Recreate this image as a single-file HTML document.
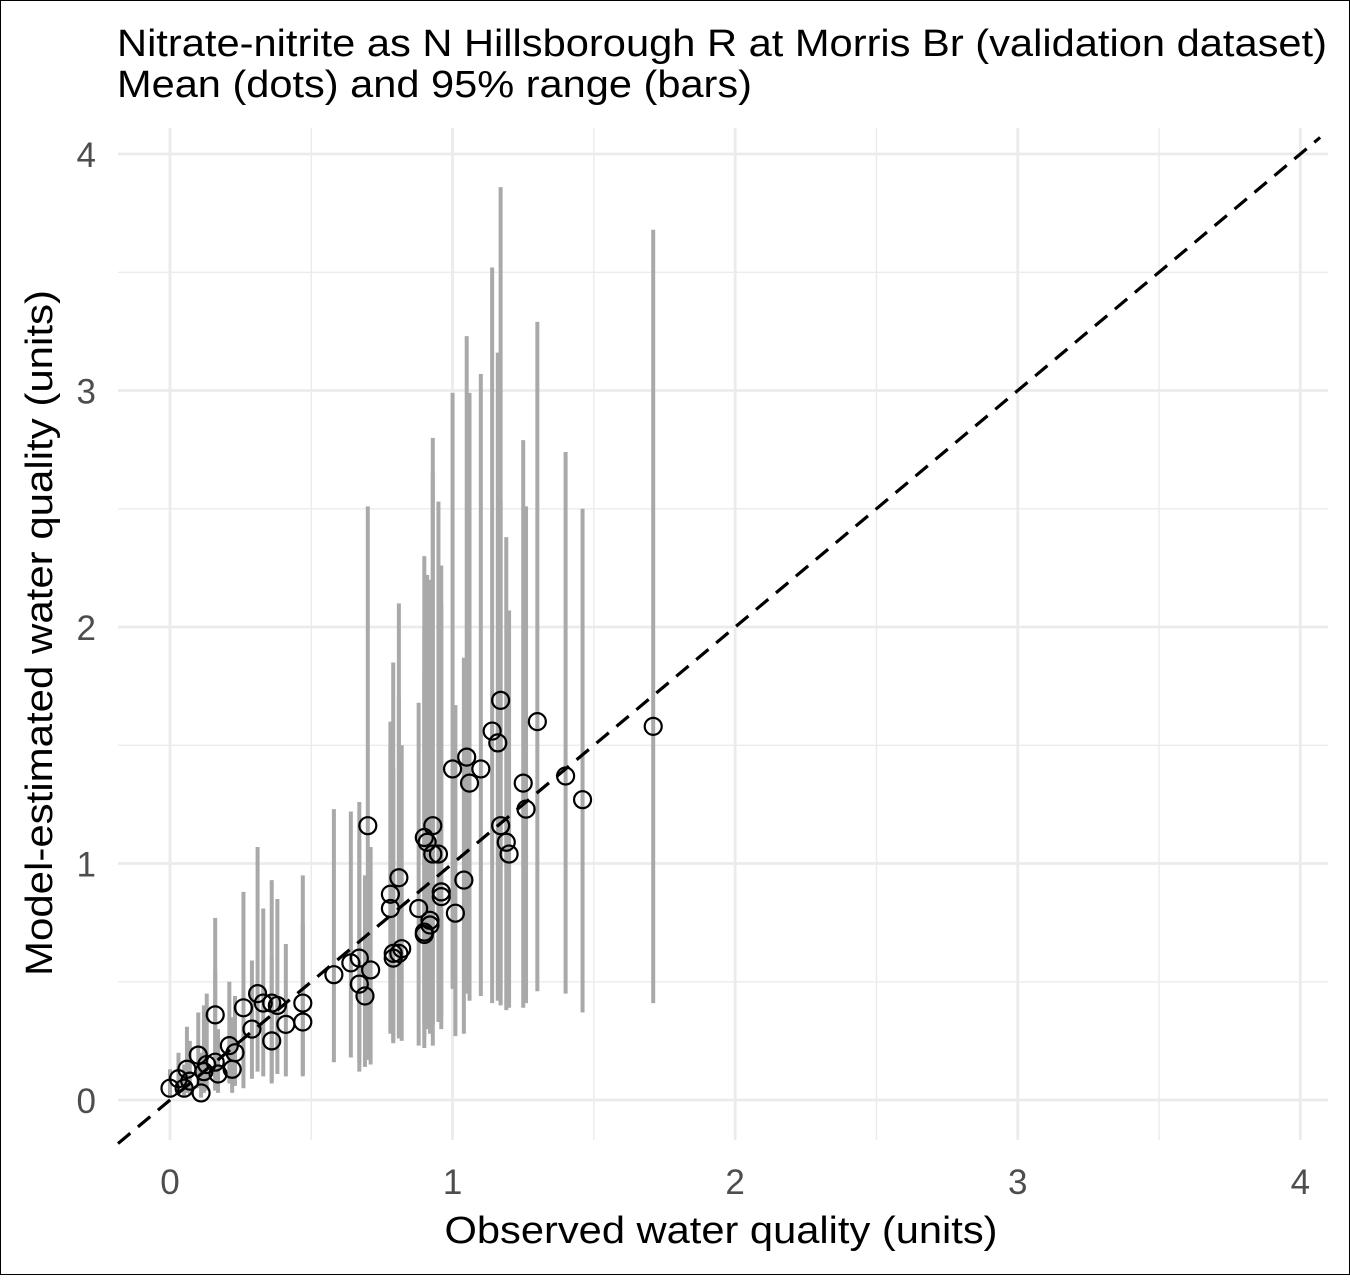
<!DOCTYPE html>
<html><head><meta charset="utf-8"><style>
body{margin:0;background:#fff}
svg text{font-family:"Liberation Sans",Arial,sans-serif}
</style></head><body>
<svg width="1350" height="1275" xmlns="http://www.w3.org/2000/svg" id="svg">
<rect x="0.5" y="0.5" width="1349" height="1274" fill="#fff" stroke="#000" stroke-width="1"/>
<text x="117" y="56" font-size="38" textLength="1210" lengthAdjust="spacingAndGlyphs" fill="#000">Nitrate-nitrite as N Hillsborough R at Morris Br (validation dataset)</text>
<text x="117" y="97" font-size="38" textLength="635" lengthAdjust="spacingAndGlyphs" fill="#000">Mean (dots) and 95% range (bars)</text>
<g id="grid"></g>
<g id="bars"></g>
<g id="line"></g>
<g id="pts"></g>
<g id="axes"></g>
<text x="721" y="1243" font-size="38" text-anchor="middle" textLength="553" lengthAdjust="spacingAndGlyphs" fill="#000">Observed water quality (units)</text>
<text transform="translate(52,633) rotate(-90)" font-size="38" text-anchor="middle" textLength="686" lengthAdjust="spacingAndGlyphs" fill="#000">Model-estimated water quality (units)</text>
</svg>
<script>
const obsX=[0.00,0.03,0.05,0.06,0.07,0.10,0.11,0.12,0.13,0.16,0.17,0.16,0.21,0.23,0.22,0.26,0.29,0.31,0.33,0.36,0.38,0.36,0.41,0.47,0.47,
0.58,0.64,0.67,0.71,0.67,0.69,0.70,0.79,0.81,0.78,0.78,0.81,0.88,0.92,0.90,0.92,0.90,0.96,1.01,1.04,0.93,0.91,0.95,0.93,0.90,
1.00,1.05,1.06,1.10,1.14,1.16,1.17,1.17,1.19,1.20,1.25,1.26,1.30,1.40,1.46,1.71,0.96,0.82,0.79];
const meanY=[0.05,0.09,0.05,0.13,0.08,0.19,0.03,0.12,0.15,0.16,0.11,0.36,0.23,0.20,0.13,0.39,0.30,0.45,0.41,0.41,0.40,0.25,0.32,0.33,0.41,
0.53,0.58,0.60,0.55,0.49,0.44,1.16,0.60,0.62,0.81,0.87,0.94,0.81,0.76,0.70,0.74,0.71,0.86,0.79,0.93,1.04,1.09,1.04,1.16,1.11,
1.40,1.45,1.34,1.40,1.56,1.51,1.69,1.16,1.09,1.04,1.34,1.23,1.60,1.37,1.27,1.58,0.88,0.64,0.62];
const lowY=[0.01,0.02,0.01,0.03,0.02,0.05,0.01,0.03,0.04,0.05,0.03,0.04,0.07,0.06,0.03,0.05,0.09,0.12,0.10,0.08,0.11,0.07,0.10,0.11,0.10,
0.16,0.18,0.16,0.15,0.12,0.14,0.17,0.25,0.26,0.30,0.28,0.27,0.23,0.28,0.22,0.30,0.26,0.35,0.27,0.28,0.23,0.30,0.33,0.32,0.33,
0.47,0.45,0.42,0.44,0.41,0.42,0.45,0.40,0.38,0.39,0.39,0.41,0.46,0.45,0.37,0.41,0.30,0.25,0.24];
const highY=[0.13,0.20,0.15,0.31,0.25,0.37,0.20,0.40,0.45,0.55,0.30,0.77,0.50,0.44,0.35,0.88,0.59,1.07,0.81,0.93,0.85,0.60,0.66,0.75,0.95,
1.23,1.22,1.26,1.07,1.10,0.95,2.51,1.85,2.10,1.50,1.60,1.70,1.68,2.20,2.30,1.90,1.80,2.26,1.67,1.87,2.80,2.22,2.53,2.65,2.00,
2.99,3.23,2.99,3.07,3.52,3.16,3.86,2.54,2.38,2.07,2.79,2.51,3.29,2.74,2.50,3.68,2.10,1.50,1.40];
const xTicks=[0,1,2,3,4];
const yTicks=[0,1,2,3,4];
const L=118,R=1328,T=128,B=1140;
const xmin=-0.184,xmax=4.098,ymin=-0.169,ymax=4.11;
const sx=v=>L+(v-xmin)/(xmax-xmin)*(R-L);
const sy=v=>B-(v-ymin)/(ymax-ymin)*(B-T);
const NS="http://www.w3.org/2000/svg";
function mk(p,tag,a){const e=document.createElementNS(NS,tag);for(const k in a)e.setAttribute(k,a[k]);document.getElementById(p).appendChild(e);return e;}
for(let v=0;v<=4;v+=0.5){
 const major=Number.isInteger(v);
 const g1=mk('grid','line',{x1:sx(v),x2:sx(v),y1:T,y2:B,stroke:'#ebebeb','stroke-width':major?2.8:1.4});
 
 
 const g2=mk('grid','line',{x1:L,x2:R,y1:sy(v),y2:sy(v),stroke:'#ebebeb','stroke-width':major?2.8:1.4});
 
 
}
for(let i=0;i<obsX.length;i++){
 const b=mk('bars','line',{x1:sx(obsX[i]),x2:sx(obsX[i]),y1:sy(lowY[i]),y2:sy(highY[i]),stroke:'#a9a9a9','stroke-width':4});
 
 
}
const dl=mk('line','line',{x1:sx(xmin),y1:sy(xmin),x2:sx(4.07),y2:sy(4.07),stroke:'#000','stroke-width':3.2,'stroke-dasharray':'16 10'});


for(let i=0;i<obsX.length;i++){
 const c=mk('pts','circle',{cx:sx(obsX[i]),cy:sy(meanY[i]),r:8.5,fill:'none',stroke:'#000','stroke-width':2.2});
 
 
}
xTicks.forEach(v=>{
 const t=mk('axes','text',{x:sx(v),y:1194,'font-size':35,'text-anchor':'middle',fill:'#4d4d4d'});
 t.textContent=v;
 
 
});
yTicks.forEach(v=>{
 const t=mk('axes','text',{x:96,y:sy(v)+13,'font-size':35,'text-anchor':'end',fill:'#4d4d4d'});
 t.textContent=v;
 
 
});
</script>
</body></html>
